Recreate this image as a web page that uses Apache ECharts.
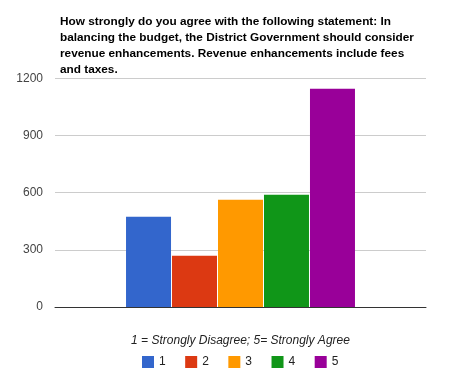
<!DOCTYPE html>
<html><head><meta charset="utf-8">
<script src="https://cdn.jsdelivr.net/npm/echarts@6/dist/echarts.min.js"></script>
<style>html,body{margin:0;padding:0;background:#fff}#c{width:449px;height:383px}</style>
</head><body><div id="c"></div>
<script>
const titleLines = [
  "How strongly do you agree with the following statement: In",
  "balancing the budget, the District Government should consider",
  "revenue enhancements. Revenue enhancements include fees",
  "and taxes."
];
const seriesNames = ["1", "2", "3", "4", "5"];
const seriesValues = [474, 269, 563, 589, 1145];
const seriesColors = ["#3366cc", "#dc3912", "#ff9900", "#109618", "#990099"];
const yTicks = [0, 300, 600, 900, 1200];
const xAxisTitle = "1 = Strongly Disagree; 5= Strongly Agree";

const chart = echarts.init(document.getElementById('c'));
chart.setOption({
  animation: false,
  title: {
    text: titleLines.join('\n'),
    left: 55, top: 9,
    textStyle: { fontFamily: 'Liberation Sans, Arial', fontWeight: 'bold', fontSize: 11.8, lineHeight: 16, color: '#000' }
  },
  grid: { left: 55, right: 23, top: 78.3, bottom: 383 - 307, containLabel: false },
  legend: {
    top: 351, left: 137,
    itemWidth: 12, itemHeight: 12, itemGap: 19.5,
    icon: 'rect',
    textStyle: { fontFamily: 'Liberation Sans, Arial', fontSize: 12, color: '#222' },
    data: seriesNames
  },
  xAxis: {
    type: 'category', data: [''],
    axisTick: { show: false }, axisLabel: { show: false },
    axisLine: { lineStyle: { color: '#333', width: 1 } },
    name: xAxisTitle, nameLocation: 'middle', nameGap: 28,
    nameTextStyle: { fontFamily: 'Liberation Sans, Arial', fontStyle: 'italic', fontSize: 12, color: '#222' }
  },
  yAxis: {
    type: 'value', min: yTicks[0], max: yTicks[yTicks.length - 1], interval: 300,
    axisLine: { show: false }, axisTick: { show: false },
    axisLabel: { margin: 12, fontFamily: 'Liberation Sans, Arial', fontSize: 12, color: '#444', formatter: v => String(v) },
    splitLine: { lineStyle: { color: '#cccccc', width: 1 } }
  },
  series: seriesNames.map((n, i) => ({
    name: n, type: 'bar', data: [seriesValues[i]],
    barWidth: 45, barGap: '2.2%',
    itemStyle: { color: seriesColors[i] }
  }))
});
</script></body></html>
